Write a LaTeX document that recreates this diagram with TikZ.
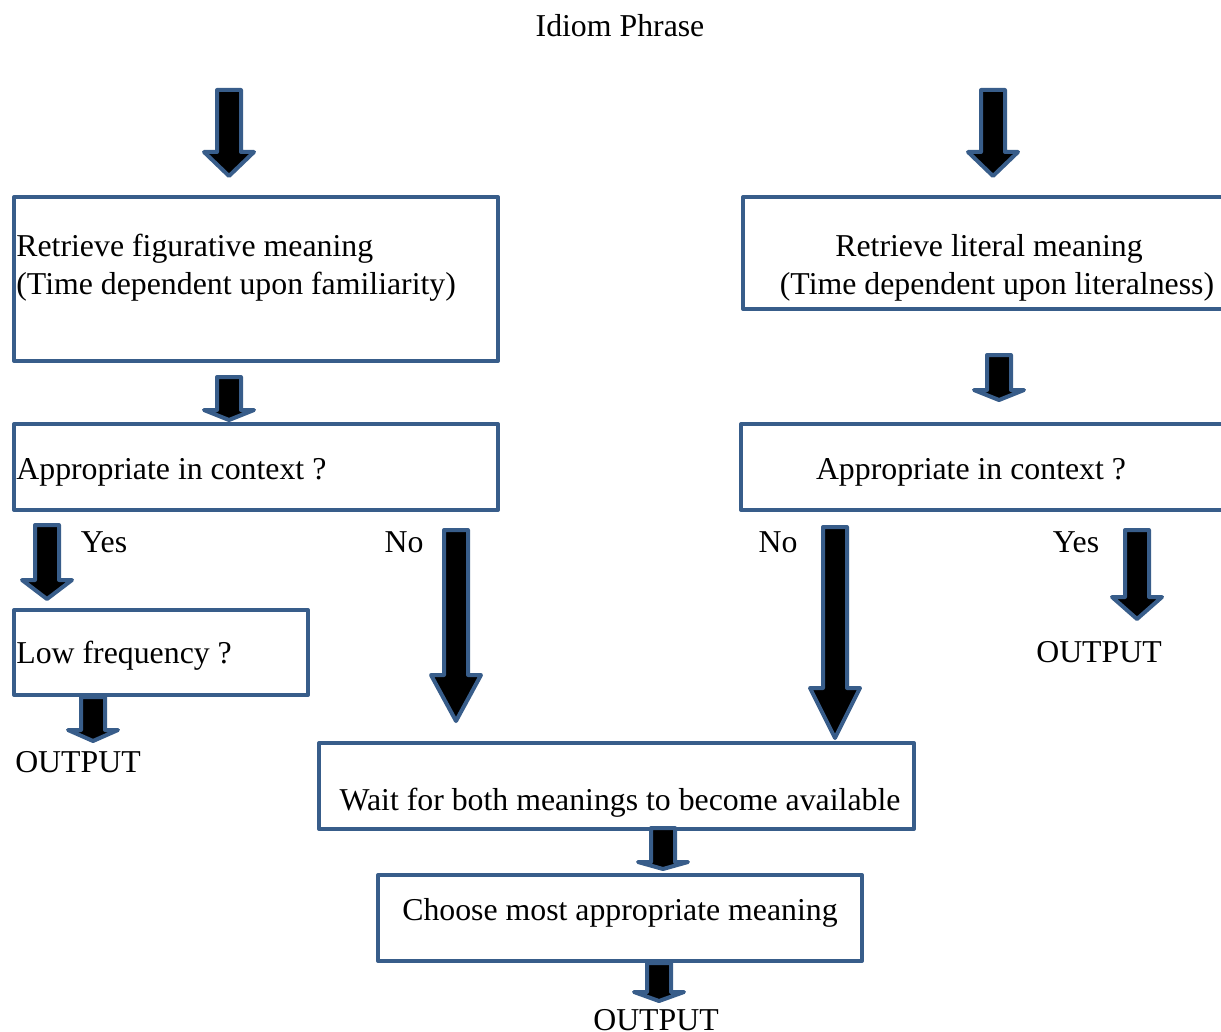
\documentclass[tikz,border=0pt]{standalone}
\usepackage{fontspec}
\setmainfont{Liberation Serif}
\definecolor{boxblue}{RGB}{56,93,138}
\tikzset{
	box/.style={draw=boxblue, line width=2pt, line join=round},
	barrow/.style={draw=boxblue, fill=black, line width=2pt, line join=round},
	lbl/.style={inner sep=0pt, font=\fontsize{15.9}{19}\selectfont},
}
% block arrow: (x centre : top : head start : tip)
\def\blockarrow(#1:#2:#3:#4){\draw[barrow] (#1-12,#2) -- (#1+12,#2) -- (#1+12,#3) -- (#1+25,#3) -- (#1,#4) -- (#1-25,#3) -- (#1-12,#3) -- cycle;}

\begin{document}
\begin{tikzpicture}[x=0.5pt, y=-0.5pt]
			%%%%% START %%%%%
			\useasboundingbox (0,0) rectangle (1221,1032);
			
			\node[lbl, anchor=base] (idiom) at (620, 37) {Idiom Phrase};
			
			% figurative side
			\draw[box] (14, 197) rectangle (498, 361);
			\node[lbl, anchor=base west] (figA) at (16, 257) {Retrieve figurative meaning};
			\node[lbl, anchor=base west] (figB) at (16, 295) {(Time dependent upon familiarity)};
			
			\draw[box] (14, 424) rectangle (498, 510);
			\node[lbl, anchor=base west] (figctx) at (16, 479) {Appropriate in context ?};
			
			\node[lbl, anchor=base] (figyes) at (104, 552) {Yes};
			\node[lbl, anchor=base] (figno) at (404, 552) {No};
			
			\draw[box] (14, 610) rectangle (308, 695);
			\node[lbl, anchor=base west] (lowfreq) at (16, 663) {Low frequency ?};
			\node[lbl, anchor=base] (outA) at (78, 772) {OUTPUT};
			
			% literal side
			\draw[box] (743, 197) rectangle (1232, 309);
			\node[lbl, anchor=base] (litA) at (989, 257) {Retrieve literal meaning};
			\node[lbl, anchor=base] (litB) at (997, 295) {(Time dependent upon literalness)};
			
			\draw[box] (741, 424) rectangle (1232, 510);
			\node[lbl, anchor=base] (litctx) at (971, 479) {Appropriate in context ?};
			
			\node[lbl, anchor=base] (litno) at (778, 552) {No};
			\node[lbl, anchor=base] (lityes) at (1076, 552) {Yes};
			\node[lbl, anchor=base] (outB) at (1099, 662) {OUTPUT};
			
			% both
			\draw[box] (319, 743) rectangle (914, 829);
			\node[lbl, anchor=base] (wait) at (620, 810) {Wait for both meanings to become available};
			
			\draw[box] (378, 875) rectangle (862, 961);
			\node[lbl, anchor=base] (choose) at (620, 920) {Choose most appropriate meaning};
			\node[lbl, anchor=base] (outC) at (656, 1030) {OUTPUT};
			
			% arrows
			\blockarrow(229:90:152:176)
			\blockarrow(993:90:152:176)
			\blockarrow(229:377:410:420)
			\blockarrow(999:355:390:400)
			\blockarrow(47:525:580:599)
			\blockarrow(456:530:675:721)
			\blockarrow(835:527:688:738)
			\blockarrow(1137:530:597:619)
			\blockarrow(93:697:730:741)
			\blockarrow(663:828:862:869)
			\blockarrow(659:963:992:1001)
			
			%%%%% END %%%%%
\end{tikzpicture}
\end{document}
